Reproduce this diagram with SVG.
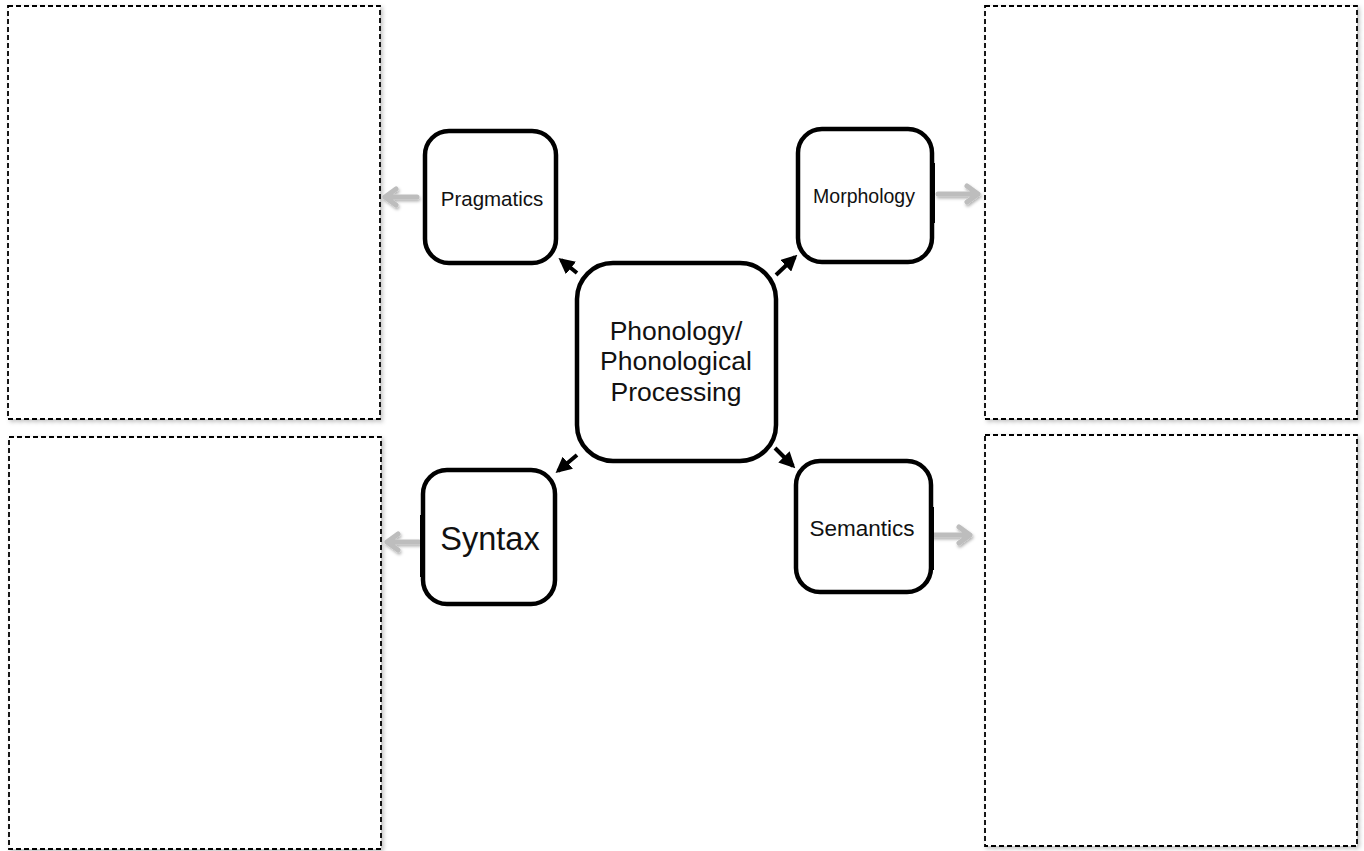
<svg xmlns="http://www.w3.org/2000/svg" width="1364" height="851" viewBox="0 0 1364 851">
<defs>
<filter id="sh" x="-5%" y="-5%" width="110%" height="110%"><feDropShadow dx="2" dy="2" stdDeviation="2" flood-color="#000" flood-opacity="0.25"/></filter>
<filter id="gsh" x="-30%" y="-60%" width="160%" height="220%"><feDropShadow dx="1" dy="2" stdDeviation="1.5" flood-color="#000" flood-opacity="0.3"/></filter>
<marker id="ah" viewBox="0 0 10 10" refX="8" refY="5" markerWidth="4" markerHeight="4" orient="auto" markerUnits="strokeWidth"><path d="M0,0 L10,5 L0,10 z" fill="#000"/></marker>
</defs>
<style>
.panel{fill:#fff;stroke:#000;stroke-width:1.8;stroke-dasharray:5,3}
.node{fill:#fff;stroke:#000;stroke-width:4.5}
.lbl{font-family:"Liberation Sans",Arial,sans-serif;fill:#111;text-anchor:middle}
.conn{stroke:#000;stroke-width:4;fill:none;marker-end:url(#ah)}
.garrow{stroke:#bdbdbd;stroke-width:5;fill:none;stroke-linecap:round;stroke-linejoin:round}
</style>
<rect width="1364" height="851" fill="#fff"/>
<g id="panels">
<rect id="panel-tl" class="panel" x="8" y="6" width="372" height="413" filter="url(#sh)"/>
<rect id="panel-bl" class="panel" x="9" y="437" width="372" height="412" filter="url(#sh)"/>
<rect id="panel-tr" class="panel" x="985" y="6" width="372" height="413" filter="url(#sh)"/>
<rect id="panel-br" class="panel" x="985" y="435" width="372" height="411" filter="url(#sh)"/>
</g>
<g id="connectors">
<line class="conn" x1="577" y1="273" x2="561" y2="260"/>
<line class="conn" x1="776" y1="275" x2="795" y2="257"/>
<line class="conn" x1="577" y1="455" x2="558" y2="471"/>
<line class="conn" x1="775" y1="448" x2="793" y2="466"/>
<g filter="url(#gsh)">
<path class="garrow" d="M417,197 H385 M396,189 L385,197 L396,205"/>
<path class="garrow" d="M938,194 H978 M967,186 L978,194 L967,202"/>
<path class="garrow" d="M419,542 H387 M398,534 L387,542 L398,550"/>
<path class="garrow" d="M932,535 H970 M959,527 L970,535 L959,543"/>
</g>
</g>
<g id="center">
<rect class="node" x="577" y="263" width="199" height="198" rx="36"/>
<text class="lbl" font-size="26.5" x="676" y="340">Phonology/</text>
<text class="lbl" font-size="26.5" x="676" y="370">Phonological</text>
<text class="lbl" font-size="26.5" x="676" y="401">Processing</text>
</g>
<g id="pragmatics">
<rect class="node" x="425" y="131" width="131" height="132" rx="24"/>
<text class="lbl" font-size="20.5" x="492" y="206">Pragmatics</text>
</g>
<g id="morphology">
<rect class="node" x="798" y="129" width="134" height="133" rx="24"/>
<rect x="932" y="163" width="3" height="60" fill="#000"/>
<text class="lbl" font-size="19.5" x="864" y="203">Morphology</text>
</g>
<g id="syntax">
<rect class="node" x="423" y="470" width="132" height="134" rx="24"/>
<rect x="420" y="515" width="3" height="62" fill="#000"/>
<text class="lbl" font-size="32.5" x="490" y="550">Syntax</text>
</g>
<g id="semantics">
<rect class="node" x="796" y="461" width="135" height="131" rx="24"/>
<rect x="931" y="507" width="3" height="63" fill="#000"/>
<text class="lbl" font-size="22.5" x="862" y="536">Semantics</text>
</g>
</svg>
